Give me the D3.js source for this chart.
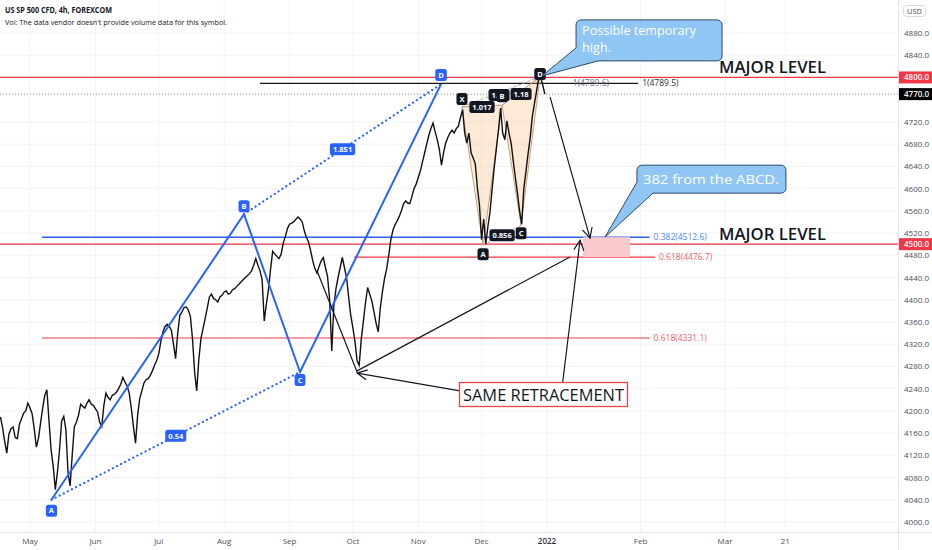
<!DOCTYPE html>
<html><head><meta charset="utf-8">
<script src="https://cdn.jsdelivr.net/npm/d3@7"></script>
<style>
html,body{margin:0;padding:0;background:#fff;}
svg{display:block;font-family:"Open Sans","Noto Sans",sans-serif;}
</style></head><body>
<svg id="c" width="932" height="550"></svg>
<script>
// ---------------- DATA ----------------
const seriesStart = "2021-04-17";   // first daily point
const closes = [
4189,4170,4145,4124,4158,4168,4171,4152,4150,4176,
4186,4196,4200,4214,4205,4195,4168,4135,4150,4178,
4205,4228,4238,4182,4130,4100,4058,4090,4130,4182,
4190,4166,4090,4065,4120,4171,4180,4192,4212,4208,
4205,4214,4220,4212,4210,4204,4198,4180,4172,4210,
4232,4224,4220,4228,4230,4234,4240,4248,4260,4252,
4245,4232,4205,4172,4142,4192,4222,4236,4250,4256,
4258,4264,4272,4282,4290,4302,4325,4342,4352,4356,
4352,4345,4320,4294,4340,4372,4378,4386,4387,4382,
4370,4330,4270,4236,4292,4330,4348,4366,4385,4405,
4410,4402,4400,4396,4405,4408,4414,4416,4410,4412,
4418,4420,4424,4428,4432,4436,4440,4443,4447,4452,
4462,4474,4462,4452,4436,4362,4392,4418,4455,4487,
4482,4478,4474,4482,4502,4514,4528,4536,4538,4540,
4545,4549,4545,4540,4524,4512,4504,4488,4470,4456,
4448,4460,4470,4476,4458,4442,4400,4308,4390,4420,
4440,4458,4476,4458,4440,4405,4372,4350,4325,4290,
4282,4330,4362,4395,4422,4410,4398,4378,4358,4342,
4385,4414,4438,4455,4480,4508,4525,4535,4542,4550,
4560,4572,4578,4574,4573,4586,4600,4608,4620,4632,
4648,4664,4680,4696,4708,4718,4702,4688,4670,4642,
4665,4682,4692,4700,4705,4700,4708,4712,4728,4742,
4700,4682,4700,4665,4655,4645,4602,4570,4508,4545,
4500,4532,4558,4600,4638,4672,4705,4745,4700,4688,
4722,4700,4682,4650,4620,4592,4560,4536,4600,4630,
4662,4690,4728,4752,4774,4798,4800,4786,4770
];
const priceTicks = [4000,4040,4080,4120,4160,4200,4240,4280,4320,4360,4400,4440,4480,4520,4560,4600,4640,4680,4720,4840,4880];
const timeTickDates  = ["2021-05-01","2021-06-01","2021-07-01","2021-08-01","2021-09-01","2021-10-01","2021-11-01","2021-12-01","2022-01-01","2022-02-01","2022-03-01","2022-03-21"];
const timeTickLabels = ["May","Jun","Jul","Aug","Sep","Oct","Nov","Dec","2022","Feb","Mar","21"];

const majorLevels = [4800, 4500];
const lastPrice = 4770;

// Blue ABCD pattern
const abcdNames  = ["A","B","C","D"];
const abcdDates  = ["2021-05-11T04:00","2021-08-10T10:00","2021-09-05T23:00","2021-11-11T19:00"];
const abcdPrices = [4040,4554,4270,4788];
const abcdRatios = ["0.54","1.851"];           // A-C, B-D

// Harmonic XABCD pattern
const harmNames  = ["X","A","B","C","D"];
const harmDates  = ["2021-11-21T17:00","2021-12-01T17:00","2021-12-10T17:00","2021-12-19T17:00","2021-12-28T17:00"];
const harmPrices = [4747,4498,4750,4534,4801];
const harmRatioXB = "1.017", harmRatioAC = "0.856", harmRatioBD = "1.18", harmRatioXD = "1.13";

// Fibonacci levels
const fibLabels = ["0.382(4512.6)","0.618(4476.7)","0.618(4331.1)","1(4789.5)"];
const fibPrices = [4512.6, 4476.7, 4331.1, 4789.5];
const fibFrom   = ["2021-05-06T16:00","2021-10-01T14:00","2021-05-06T16:00","2021-08-18T00:00"];
const fibTo     = ["2022-02-04T00:00","2022-02-05T19:00","2022-02-04T00:00","2022-01-31T05:00"];
const fibKind   = ["blue","red","red","black"];
const fibExtraLabel = "1(4789.6)", fibExtraDate = "2022-01-09T12:00";

// Target zone
const zoneDates  = ["2022-01-12T22:00","2022-01-28T12:00"];
const zonePrices = [4512.6, 4476.7];

// Black arrows / lines  [date1, price1, date2, price2, arrowhead]
const arrows = [
  ["2022-01-02T00:00",4765,"2022-01-15T06:00",4511,true],
  ["2022-01-06T05:00",4252,"2022-01-11T23:00",4507,true],
  ["2021-11-20T19:00",4236,"2021-10-03T00:00",4268,true],
  ["2021-10-03T00:00",4272,"2022-01-08T15:00",4477,false],
  ["2021-09-14T00:00",4452,"2021-10-03T00:00",4270,false]
];

// ---------------- SETUP ----------------
const W = 932, H = 550;
const plotRight = 898, plotBottom = 532;
const svg = d3.select("#c");
const pd = d3.utcParse("%Y-%m-%d");
const pt = d3.utcParse("%Y-%m-%dT%H:%M");
const P = s => s.length > 10 ? pt(s) : pd(s);

const x = d3.scaleUtc()
  .domain([pd("2021-05-01"), pd("2022-01-01"), pd("2022-03-01")])
  .range([30, 547, 725]);
const y = d3.scaleLinear().domain([4000, 4880]).range([522, 33]);

const BLUE = "#2962ff", RED = "#f23645", INK = "#131722";

const defs = svg.append("defs");
defs.append("clipPath").attr("id","plot").append("rect")
  .attr("x",0).attr("y",0).attr("width",plotRight).attr("height",plotBottom);
defs.append("marker").attr("id","arr").attr("viewBox","0 0 12 12")
  .attr("refX",11).attr("refY",6).attr("markerWidth",12).attr("markerHeight",12)
  .attr("markerUnits","userSpaceOnUse").attr("orient","auto")
  .append("path").attr("d","M1,1 L11,6 L1,11").attr("fill","none")
  .attr("stroke",INK).attr("stroke-width",1.2);

// grid
const grid = svg.append("g");
grid.selectAll(".hg").data(priceTicks).join("line")
  .attr("x1",0).attr("x2",plotRight).attr("y1",d=>y(d)).attr("y2",d=>y(d))
  .attr("stroke","#f0f3fa").attr("stroke-width",1);
grid.selectAll(".vg").data(timeTickDates).join("line")
  .attr("x1",d=>x(pd(d))).attr("x2",d=>x(pd(d))).attr("y1",0).attr("y2",plotBottom)
  .attr("stroke","#f0f3fa").attr("stroke-width",1);

const plot = svg.append("g").attr("clip-path","url(#plot)");

// major level lines
plot.selectAll(".ml").data(majorLevels).join("line")
  .attr("x1",0).attr("x2",plotRight).attr("y1",d=>y(d)).attr("y2",d=>y(d))
  .attr("stroke",RED).attr("stroke-width",1.2);
// last price dotted
plot.append("line").attr("x1",0).attr("x2",plotRight)
  .attr("y1",y(lastPrice)).attr("y2",y(lastPrice))
  .attr("stroke","#8a8d96").attr("stroke-width",1).attr("stroke-dasharray","1,2");

// fib lines
const fibColor = {blue:BLUE, red:RED, black:INK};
const fibText  = {blue:"#4f86f7", red:"#f25c66", black:"#2a2e39"};
fibPrices.forEach((p,i)=>{
  plot.append("line").attr("x1",x(P(fibFrom[i]))).attr("x2",x(P(fibTo[i])))
    .attr("y1",y(p)).attr("y2",y(p))
    .attr("stroke",fibColor[fibKind[i]]).attr("stroke-width",fibKind[i]==="blue"?1.5:1.2);
});
// zone
plot.append("rect").attr("x",x(P(zoneDates[0]))).attr("y",y(zonePrices[0]))
  .attr("width",x(P(zoneDates[1]))-x(P(zoneDates[0])))
  .attr("height",y(zonePrices[1])-y(zonePrices[0]))
  .attr("fill","#f9c9cb");
fibPrices.forEach((p,i)=>{
  plot.append("text").attr("x",x(P(fibTo[i]))+4).attr("y",y(p)+3)
    .attr("font-size",8.5).attr("fill",fibText[fibKind[i]]).text(fibLabels[i]);
});
plot.append("text").attr("x",x(P(fibExtraDate))).attr("y",y(fibPrices[3])+3)
  .attr("font-size",8.5).attr("fill","#6a6d78").text(fibExtraLabel);

// harmonic pattern fills
const H5 = harmDates.map((d,i)=>[x(P(d)), y(harmPrices[i])]);
const tri = (a,b,c)=>`M${H5[a]}L${H5[b]}L${H5[c]}Z`;
[[0,1,2],[2,3,4]].forEach(t=>{
  plot.append("path").attr("d",tri(...t)).attr("fill","rgba(245,175,100,0.26)")
    .attr("stroke","#c9a27c").attr("stroke-width",1);
});
[[0,2],[1,3],[2,4],[0,4]].forEach(([a,b])=>{
  plot.append("line").attr("x1",H5[a][0]).attr("y1",H5[a][1]).attr("x2",H5[b][0]).attr("y2",H5[b][1])
    .attr("stroke","#b9a58e").attr("stroke-width",1).attr("stroke-dasharray","3,2");
});

// price line
const pts = closes.map((c,i)=>[d3.utcDay.offset(pd(seriesStart), i), c]);
plot.append("path").datum(pts)
  .attr("d", d3.line().x(d=>x(d[0])).y(d=>y(d[1])))
  .attr("fill","none").attr("stroke","#111").attr("stroke-width",1.4).attr("stroke-linejoin","miter");

// blue ABCD
const A4 = abcdDates.map((d,i)=>[x(P(d)), y(abcdPrices[i])]);
plot.append("path").attr("d",`M${A4[0]}L${A4[1]}L${A4[2]}L${A4[3]}`)
  .attr("fill","none").attr("stroke",BLUE).attr("stroke-width",2);
[[0,2],[1,3]].forEach(([a,b])=>{
  plot.append("line").attr("x1",A4[a][0]).attr("y1",A4[a][1]).attr("x2",A4[b][0]).attr("y2",A4[b][1])
    .attr("stroke",BLUE).attr("stroke-width",2.2).attr("stroke-dasharray","0.1,4.5").attr("stroke-linecap","round");
});

// black arrows
arrows.forEach(a=>{
  const l = plot.append("line").attr("x1",x(P(a[0]))).attr("y1",y(a[1]))
    .attr("x2",x(P(a[2]))).attr("y2",y(a[3])).attr("stroke",INK).attr("stroke-width",1.2);
  if(a[4]) l.attr("marker-end","url(#arr)");
});

// label helper
function tag(g, cx, cy, txt, fill, fs){
  fs = fs || 7.5;
  const t = g.append("text").attr("x",cx).attr("y",cy+fs*0.36).attr("text-anchor","middle")
    .attr("font-size",fs).attr("font-weight",700).attr("fill","#fff").text(txt);
  const w = t.node().getComputedTextLength();
  g.insert("rect","text:last-child").attr("x",cx-w/2-3).attr("y",cy-6).attr("width",w+6).attr("height",12)
    .attr("rx",2.5).attr("fill",fill);
  t.raise();
}
const lab = svg.append("g");
// abcd letters
const abcdOff = [11,-8,8,-9];
A4.forEach((p,i)=>tag(lab, p[0], p[1]+abcdOff[i], abcdNames[i], BLUE));
tag(lab, (A4[0][0]+A4[2][0])/2, (A4[0][1]+A4[2][1])/2, abcdRatios[0], BLUE);
tag(lab, (A4[1][0]+A4[3][0])/2, (A4[1][1]+A4[3][1])/2, abcdRatios[1], BLUE);
// harmonic
const mid=(a,b)=>[(H5[a][0]+H5[b][0])/2,(H5[a][1]+H5[b][1])/2];
let m;
m=mid(0,2); tag(lab, m[0], m[1]+1, harmRatioXB, INK);
m=mid(1,3); tag(lab, m[0], m[1], harmRatioAC, INK);
m=mid(0,4); tag(lab, m[0]-2, m[1]+3, harmRatioXD, INK);
m=mid(2,4); tag(lab, m[0], m[1]+3, harmRatioBD, INK);
const harmOff = [-8,9,-9,8,-3];
H5.forEach((p,i)=>tag(lab, p[0], p[1]+harmOff[i], harmNames[i], INK));

// callouts
function callout(tipX, tipY, bx, by, bw, bh, pA, pB, lines, fs, tl, lh, top){
  const r=5;
  const path = d3.path();
  path.moveTo(bx+r,by);
  path.lineTo(bx+bw-r,by); path.arcTo(bx+bw,by,bx+bw,by+r,r);
  path.lineTo(bx+bw,by+bh-r); path.arcTo(bx+bw,by+bh,bx+bw-r,by+bh,r);
  path.lineTo(pB,by+bh);
  path.lineTo(tipX,tipY);
  path.lineTo(bx,pA);
  path.lineTo(bx,by+r); path.arcTo(bx,by,bx+r,by,r);
  path.closePath();
  svg.append("path").attr("d",path.toString()).attr("fill","#8fc6f4")
    .attr("stroke","#2e4a66").attr("stroke-width",1);
  lines.forEach((s,i)=>{
    svg.append("text").attr("font-size",fs).attr("fill","#fff")
      .attr("x",bx+6).attr("y",by+top+i*lh)
      .attr("textLength",tl[i]).attr("lengthAdjust","spacingAndGlyphs").text(s);
  });
}
const tip1 = [H5[4][0]+2, H5[4][1]-1];
callout(tip1[0], tip1[1], tip1[0]+34, tip1[1]-56, 146, 41, tip1[1]-28, tip1[0]+56,
  ["Possible temporary","high."], 12, [114, 29], 16.5, 15.5);
const tip2 = [x(P("2022-01-20T05:00")), y(4512.6)];
callout(tip2[0], tip2[1], tip2[0]+32, tip2[1]-72, 149, 28, tip2[1]-55, tip2[0]+48,
  ["382 from the ABCD."], 13, [136], 13, 18.5);

// MAJOR LEVEL texts
majorLevels.forEach(p=>{
  svg.append("text").attr("x",719).attr("y",y(p)-4).attr("font-size",16.5).attr("font-weight",600)
    .attr("fill",INK).attr("textLength",107).attr("lengthAdjust","spacingAndGlyphs").text("MAJOR LEVEL");
});

// SAME RETRACEMENT box
svg.append("rect").attr("x",459.5).attr("y",382.5).attr("width",168).attr("height",24)
  .attr("fill","#fff").attr("stroke","#e0474c").attr("stroke-width",1.3);
svg.append("text").attr("x",463).attr("y",401).attr("font-size",16).attr("font-weight",500)
  .attr("fill",INK).attr("textLength",161).attr("lengthAdjust","spacingAndGlyphs").text("SAME RETRACEMENT");

// ---------------- AXES ----------------
svg.append("rect").attr("x",plotRight).attr("y",0).attr("width",W-plotRight).attr("height",H).attr("fill","#fff");
svg.append("rect").attr("x",0).attr("y",plotBottom).attr("width",W).attr("height",H-plotBottom).attr("fill","#fff");
svg.append("line").attr("x1",plotRight+0.5).attr("x2",plotRight+0.5).attr("y1",0).attr("y2",H)
  .attr("stroke","#e0e3eb");
svg.append("line").attr("x1",0).attr("x2",W).attr("y1",plotBottom+0.5).attr("y2",plotBottom+0.5)
  .attr("stroke","#e0e3eb");

svg.append("g").selectAll("text").data(priceTicks).join("text")
  .attr("x",904).attr("y",d=>y(d)+3).attr("font-size",8).attr("fill","#4a4e59")
  .text(d=>d3.format(".1f")(d));

function priceTag(p, fill){
  svg.append("rect").attr("x",899).attr("y",y(p)-6).attr("width",33).attr("height",12).attr("fill",fill);
  svg.append("text").attr("x",904).attr("y",y(p)+3).attr("font-size",8).attr("fill","#fff")
    .attr("font-weight",600).text(d3.format(".1f")(p));
}
majorLevels.forEach(p=>priceTag(p, RED));
priceTag(lastPrice, "#000");

// USD tag
svg.append("rect").attr("x",903.5).attr("y",5.5).attr("width",22).attr("height",11).attr("rx",3)
  .attr("fill","#fff").attr("stroke","#b2b5be").attr("stroke-dasharray","1,1");
svg.append("text").attr("x",914.5).attr("y",13.5).attr("text-anchor","middle").attr("font-size",7.5)
  .attr("fill","#4a4e59").text("USD");

svg.append("g").selectAll("text").data(timeTickDates).join("text")
  .attr("x",d=>x(pd(d))).attr("y",544).attr("text-anchor","middle").attr("font-size",8)
  .attr("fill",(d,i)=>timeTickLabels[i]==="2022"?"#2a2e39":"#4a4e59")
  .attr("font-weight",(d,i)=>timeTickLabels[i]==="2022"?600:400)
  .text((d,i)=>timeTickLabels[i]);

// header
svg.append("text").attr("x",5).attr("y",13).attr("font-size",8).attr("font-weight",700).attr("fill",INK)
  .attr("textLength",107).attr("lengthAdjust","spacingAndGlyphs").text("US SP 500 CFD, 4h, FOREXCOM");
svg.append("text").attr("x",5).attr("y",24.5).attr("font-size",8).attr("fill",INK)
  .attr("textLength",222).attr("lengthAdjust","spacingAndGlyphs").text("Vol: The data vendor doesn't provide volume data for this symbol.");
</script>
</body></html>
